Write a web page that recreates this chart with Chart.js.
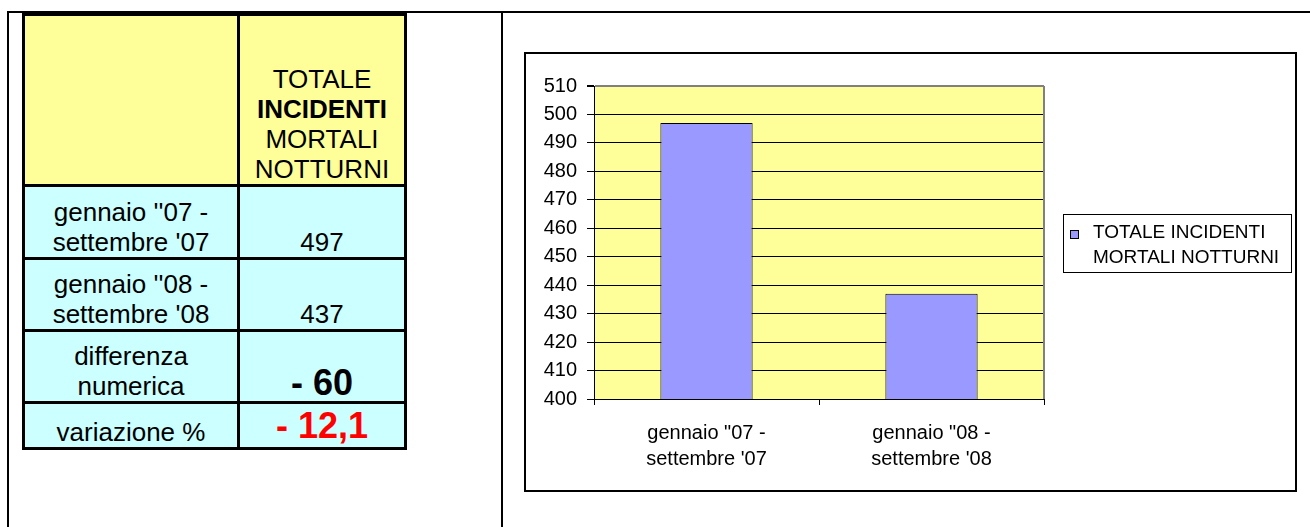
<!DOCTYPE html>
<html lang="it">
<head>
    <meta charset="UTF-8">
    <title>Totale incidenti mortali notturni</title>
    <script src="https://cdn.jsdelivr.net/npm/chart.js"></script>
    <style>
        body {
            margin: 0;
            background: #fff;
            font-family: Arial, "Liberation Sans", sans-serif;
            color: #000;
            width: 1310px;
            height: 527px;
            position: relative;
            overflow: hidden;
        }
        .line { position: absolute; background: #000; }
        .tbl {
            position: absolute;
            left: 22px; top: 13px;
            width: 385px; height: 437px;
            box-sizing: border-box;
            padding: 3px;
            background: #000; /* the borders */
            display: grid;
            grid-template-columns: 212px 164px;
            grid-template-rows: 168px 70px 69px 69px 43px;
            gap: 3px;
        }
        .tbl > div {
            display: flex;
            flex-direction: column;
            justify-content: flex-end;
            align-items: center;
            text-align: center;
            font-size: 26px;
            line-height: 30px;
        }
        .hd { background: #FFFF99; }
        .dt { background: #CCFFFF; }
        .tbl > div.big { font-weight: bold; font-size: 36px; line-height: 36px; }
        .tbl > div.red { color: #FF0000; padding-bottom: 3px; }
        .chart-box {
            position: absolute;
            left: 524px; top: 52px;
            width: 773px; height: 440px;
            box-sizing: border-box;
            border: 2px solid #000;
        }
        canvas { display: block; }
    </style>
</head>
<body>

    <div class="line" style="left:7px; top:11px; width:1303px; height:2px;"></div>
    <div class="line" style="left:7px; top:11px; width:2px; height:516px;"></div>
    <div class="line" style="left:501px; top:11px; width:2px; height:516px;"></div>

    <div class="tbl" id="tbl">
        <div class="hd"></div>
        <div class="hd"><span>TOTALE<br><b>INCIDENTI</b><br>MORTALI<br>NOTTURNI</span></div>
    </div>

    <div class="chart-box">
        <canvas id="chart" width="769" height="436"></canvas>
    </div>

<script>
    // data
    const categories = [['gennaio "07 -', "settembre '07"], ['gennaio "08 -', "settembre '08"]];
    const tableLabels = [["gennaio ''07 -", "settembre '07"], ["gennaio ''08 -", "settembre '08"]];
    const seriesName = ['TOTALE INCIDENTI', 'MORTALI NOTTURNI'];
    const totals = [497, 437];
    const yMin = 400, yMax = 510, yStep = 10;

    const FONT = 'Arial, "Liberation Sans", sans-serif';

    // table on the left
    const tbl = document.getElementById('tbl');
    function addRow(label, value, cls) {
        const a = document.createElement('div');
        a.className = 'dt';
        a.innerHTML = '<span>' + label + '</span>';
        const b = document.createElement('div');
        b.className = 'dt ' + (cls || '');
        b.textContent = value;
        tbl.appendChild(a);
        tbl.appendChild(b);
    }
    tableLabels.forEach((l, i) => addRow(l.join('<br>'), totals[i]));
    const diff = totals[1] - totals[0];
    const pct = (diff / totals[0] * 100).toFixed(1);
    addRow('differenza<br>numerica', (diff < 0 ? '- ' : '') + Math.abs(diff), 'big');
    addRow('variazione %', (diff < 0 ? '- ' : '') + Math.abs(pct).toFixed(1).replace('.', ','), 'big red');

    // yellow plot background + grey right edge
    const plotFrame = {
        id: 'plotFrame',
        beforeDraw(chart) {
            const { ctx, chartArea: a } = chart;
            ctx.save();
            ctx.fillStyle = '#FFFF99';
            ctx.fillRect(a.left, a.top, a.right - a.left, a.bottom - a.top);
            ctx.restore();
        },
        beforeDatasetsDraw(chart) {
            const { ctx, chartArea: a } = chart;
            ctx.save();
            ctx.strokeStyle = '#808080';
            ctx.lineWidth = 2;
            ctx.beginPath();
            ctx.moveTo(a.right, a.top);
            ctx.lineTo(a.right, a.bottom);
            ctx.stroke();
            ctx.restore();
        }
    };

    // boxed legend, two lines of text
    const boxLegend = {
        id: 'boxLegend',
        afterDraw(chart) {
            const { ctx, chartArea: a } = chart;
            const ds = chart.data.datasets[0];
            const w = 228, h = 58;
            const x = Math.round(a.right + 19);
            const y = Math.round((a.top + a.bottom) / 2 - h / 2);
            ctx.save();
            ctx.strokeStyle = '#000';
            ctx.lineWidth = 1;
            ctx.strokeRect(x + 0.5, y + 0.5, w, h);
            ctx.fillStyle = ds.backgroundColor;
            ctx.fillRect(x + 7, y + 16, 9, 9);
            ctx.strokeRect(x + 7.5, y + 16.5, 8, 8);
            ctx.fillStyle = '#000';
            ctx.font = '19px ' + FONT;
            ctx.textBaseline = 'alphabetic';
            seriesName.forEach((t, i) => ctx.fillText(t, x + 30, y + 24 + i * 25));
            ctx.restore();
        }
    };

    new Chart(document.getElementById('chart'), {
        type: 'bar',
        data: {
            labels: categories,
            datasets: [{
                label: seriesName.join(' '),
                data: totals,
                backgroundColor: '#9999FF',
                borderColor: '#000',
                borderWidth: 1,
                barPercentage: 0.41,
                categoryPercentage: 1
            }]
        },
        options: {
            responsive: false,
            animation: false,
            devicePixelRatio: 1,
            layout: { padding: { top: 32, right: 251, bottom: 0, left: 0 } },
            plugins: {
                legend: { display: false },
                tooltip: { enabled: false }
            },
            scales: {
                x: {
                    grid: { offset: true, drawOnChartArea: false, tickLength: 6, color: '#000' },
                    border: { color: '#000', width: 1 },
                    ticks: {
                        color: '#000',
                        font: { family: FONT, size: 20, lineHeight: 1.3 },
                        padding: 15,
                        maxRotation: 0,
                        autoSkip: false
                    },
                    afterFit(scale) { scale.height = 91; }
                },
                y: {
                    min: yMin,
                    max: yMax,
                    ticks: {
                        stepSize: yStep,
                        color: '#000',
                        font: { family: FONT, size: 20 },
                        padding: 10
                    },
                    grid: {
                        color: c => (c.tick && c.tick.value === yMax) ? '#808080' : '#000',
                        lineWidth: c => (c.tick && c.tick.value === yMax) ? 2 : 1,
                        tickColor: '#000',
                        tickLength: 7
                    },
                    border: { color: '#000', width: 1 },
                    afterFit(scale) { scale.width = 68; }
                }
            }
        },
        plugins: [plotFrame, boxLegend]
    });
</script>

</body>
</html>
